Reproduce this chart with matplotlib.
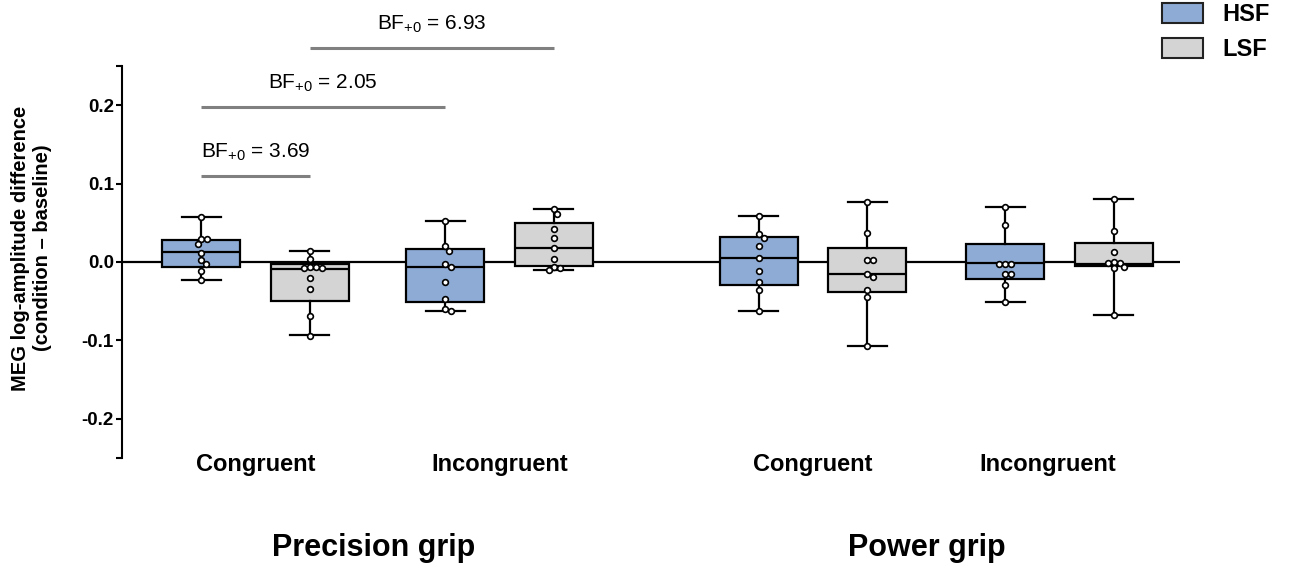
import numpy as np
import matplotlib
matplotlib.use("Agg")
import matplotlib.pyplot as plt
import matplotlib.transforms as mtransforms
from matplotlib.patches import Patch

plt.rcParams['font.family'] = ['Liberation Sans', 'DejaVu Sans']
plt.rcParams['mathtext.fontset'] = 'custom'
plt.rcParams['mathtext.rm'] = 'Liberation Sans'
plt.rcParams['mathtext.it'] = 'Liberation Sans:italic'
plt.rcParams['mathtext.bf'] = 'Liberation Sans:bold'

# ---------------- data ----------------
grips = ["Precision grip", "Power grip"]
conditions = ["Congruent", "Incongruent", "Congruent", "Incongruent"]
frequencies = ["HSF", "LSF"]

# individual participant values (order: PG-Con, PG-Inc, PW-Con, PW-Inc; HSF then LSF)
pg_con_hsf = [0.057, 0.029, 0.029, 0.023, 0.012, 0.002, -0.003, -0.012, -0.023]
pg_con_lsf = [0.014, 0.004, -0.0065, -0.007, -0.0075, -0.008, -0.020, -0.035, -0.069, -0.094]
pg_inc_hsf = [0.052, 0.021, 0.0145, -0.002, -0.006, -0.0255, -0.047, -0.060, -0.063]
pg_inc_lsf = [0.067, 0.061, 0.0425, 0.030, 0.0175, 0.004, -0.006, -0.008, -0.0106]
pw_con_hsf = [0.0587, 0.036, 0.031, 0.021, 0.005, -0.0115, -0.026, -0.036, -0.0626]
pw_con_lsf = [0.077, 0.037, 0.002, 0.002, -0.0153, -0.0187, -0.036, -0.045, -0.107]
pw_inc_hsf = [0.0706, 0.0473, -0.002, -0.002, -0.002, -0.015, -0.015, -0.029, -0.0515]
pw_inc_lsf = [0.080, 0.0396, 0.0132, 0.0004, -0.0008, -0.0008, -0.006, -0.0077, -0.068]

# box statistics as drawn
box_whislo = [-0.0226, -0.0937, -0.063, -0.0106, -0.0626, -0.1073, -0.0515, -0.068]
box_q1 = [-0.0068, -0.0498, -0.0515, -0.0051, -0.0298, -0.0387, -0.0213, -0.0047]
box_med = [0.0124, -0.009, -0.006, 0.0175, 0.0051, -0.0153, -0.0017, -0.0022]
box_q3 = [0.028, -0.0026, 0.0162, 0.0502, 0.0315, 0.0183, 0.0226, 0.0247]
box_whishi = [0.057, 0.0137, 0.052, 0.0673, 0.0587, 0.077, 0.0706, 0.0801]

# Bayes factor annotations: (box index from, box index to)
bf_values = ["3.69", "2.05", "6.93"]
bf_pairs = [(0, 1), (0, 2), (1, 3)]
bf_levels = [0.110, 0.198, 0.273]

point_sets = [pg_con_hsf, pg_con_lsf, pg_inc_hsf, pg_inc_lsf,
              pw_con_hsf, pw_con_lsf, pw_inc_hsf, pw_inc_lsf]

# ---------------- layout / style ----------------
colors = {"HSF": "#8eabd5", "LSF": "#d4d4d4"}
group_centers = [0.0, 1.0, 2.285, 3.295]
label_shift = [0.0, 0.0, 0.0, -0.05]
offset = 0.222
box_width = 0.32

fig = plt.figure(figsize=(12.95, 5.7), dpi=100)
ax = fig.add_axes([122 / 1295, 1 - 458 / 570, (1180 - 122) / 1295, 392 / 570])
ax.set_xlim(-0.547, 3.789)
ax.set_ylim(-0.25, 0.25)

positions = []
box_colors = []
for c in group_centers:
    for k, f in enumerate(frequencies):
        positions.append(c + (-offset if k == 0 else offset))
        box_colors.append(colors[f])

ax.axhline(0, color='black', lw=1.6, zorder=1)

stats = []
for i in range(len(positions)):
    stats.append(dict(whislo=box_whislo[i], q1=box_q1[i], med=box_med[i],
                      q3=box_q3[i], whishi=box_whishi[i], fliers=[]))
lw = 1.6
bp = ax.bxp(stats, positions=positions, widths=box_width, patch_artist=True,
            showfliers=False, capwidths=0.159, manage_ticks=False,
            boxprops=dict(linewidth=lw, edgecolor='black'),
            medianprops=dict(color='black', linewidth=lw),
            whiskerprops=dict(color='black', linewidth=lw),
            capprops=dict(color='black', linewidth=lw),
            zorder=2)
for patch, col in zip(bp['boxes'], box_colors):
    patch.set_facecolor(col)

# simple beeswarm in pixel space
px_per_x = ax.transData.transform((1, 0))[0] - ax.transData.transform((0, 0))[0]
diam = 6.0
cand = [0.0]
for s in np.arange(0.25, 40, 0.25):
    cand += [s, -s]

for pos, vals in zip(positions, point_sets):
    ys = [ax.transData.transform((pos, v))[1] for v in vals]
    order = np.argsort(ys)[::-1]
    placed = []
    xs = np.zeros(len(vals))
    for idx in order:
        y = ys[idx]
        for cx in cand:
            if all((cx - px) ** 2 + (y - py) ** 2 >= diam ** 2 for px, py in placed):
                placed.append((cx, y))
                xs[idx] = cx
                break
    ax.scatter(pos + xs / px_per_x, vals, s=17, facecolor='white',
               edgecolor='black', linewidth=1.2, zorder=4)

# Bayes factor brackets
for val, (i, j), h in zip(bf_values, bf_pairs, bf_levels):
    x1, x2 = positions[i], positions[j]
    ax.plot([x1, x2], [h, h], color='#808080', lw=2.2, clip_on=False,
            solid_capstyle='butt', zorder=3)
    ax.annotate(r"BF$_{\mathrm{+0}}$ = " + val, xy=((x1 + x2) / 2, h),
                xytext=(0, 13), textcoords='offset points', ha='center',
                va='baseline', fontsize=15, annotation_clip=False)

# axes styling
for sp in ['top', 'right', 'bottom']:
    ax.spines[sp].set_visible(False)
ax.spines['left'].set_linewidth(1.5)
ax.set_yticks([-0.25, -0.2, -0.1, 0.0, 0.1, 0.2, 0.25])
ax.set_yticklabels(['', '-0.2', '-0.1', '0.0', '0.1', '0.2', ''],
                   fontsize=13.5, fontweight='bold')
ax.tick_params(axis='y', direction='out', length=4.3, width=1.5, pad=1.5)
ax.set_xticks([])

trans = mtransforms.blended_transform_factory(ax.transData, fig.transFigure)
for c, sh, cond in zip(group_centers, label_shift, conditions):
    ax.text(c + sh, 1 - 471.5 / 570, cond, transform=trans, ha='center',
            va='baseline', fontsize=17, fontweight='bold')
grip_shift = [-0.015, -0.04]
for g, grip in enumerate(grips):
    cx = (group_centers[2 * g] + group_centers[2 * g + 1]) / 2 + grip_shift[g]
    ax.text(cx, 1 - 556 / 570, grip, transform=trans, ha='center',
            va='baseline', fontsize=22, fontweight='bold')

fig.text(32 / 1295, 1 - 248 / 570,
         "MEG log-amplitude difference\n(condition \u2013 baseline)",
         rotation=90, ha='center', va='center', multialignment='center',
         fontsize=14.5, fontweight='bold', linespacing=1.2)

handles = [Patch(facecolor=colors[f], edgecolor='#222222', linewidth=1.5, label=f)
           for f in frequencies]
fig.legend(handles=handles, loc='upper left', bbox_to_anchor=(1161 / 1295, 1 - 2 / 570),
           frameon=False, prop={'weight': 'bold', 'size': 17},
           handlelength=1.74, handleheight=0.9, handletextpad=0.8,
           labelspacing=0.5, borderpad=0.05, borderaxespad=0)

fig.savefig("out.png", dpi=100)
